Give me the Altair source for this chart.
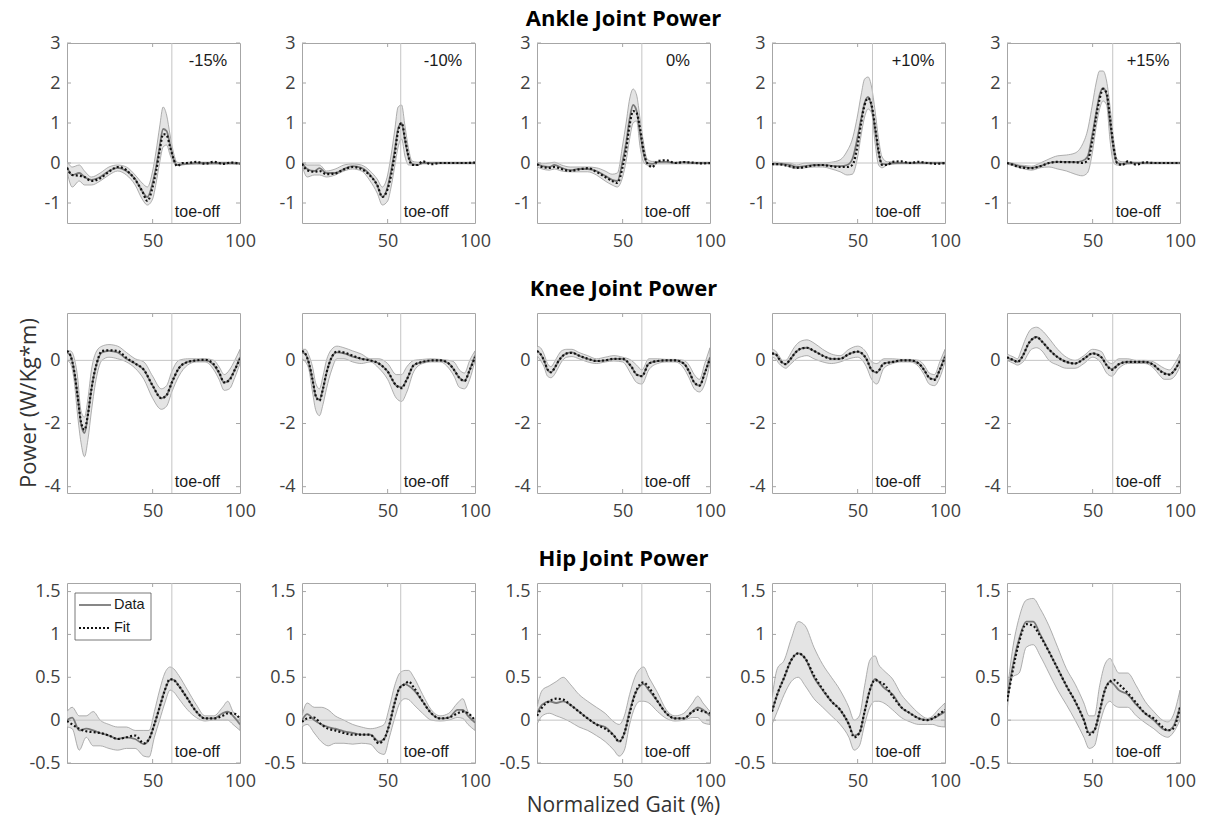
import altair as alt
import pandas as pd

# ---------------- data ----------------
X_ANKLE = [1, 4, 8, 11, 15, 20, 25, 30, 35, 40, 44, 47, 50, 52, 54, 56, 58, 60, 62, 64, 67, 70, 75, 80, 85, 90, 95, 100]
X_KNEE = [1, 3, 5, 7, 9, 11, 13, 15, 18, 21, 25, 30, 35, 40, 45, 50, 55, 58, 61, 65, 70, 75, 80, 85, 88, 91, 94, 97, 100]
X_HIP = [1, 4, 8, 12, 16, 20, 25, 30, 35, 40, 45, 48, 51, 54, 57, 60, 62, 65, 70, 75, 80, 85, 90, 93, 96, 100]

CONDITIONS = ["-15%", "-10%", "0%", "+10%", "+15%"]
TOE_OFF = [61, 57.5, 61, 58.5, 61.5]
X_TICKS = [50, 100]

# Ankle
A_MEAN = [
    [-0.1, -0.3, -0.25, -0.35, -0.42, -0.35, -0.2, -0.12, -0.2, -0.4, -0.7, -0.85, -0.5, -0.1, 0.4, 0.85, 0.8, 0.45, 0.1, -0.05, -0.03, -0.02, 0.0, 0.0, 0.0, 0.0, 0.0, -0.01],
    [0.0, -0.15, -0.2, -0.13, -0.25, -0.25, -0.15, -0.08, -0.12, -0.3, -0.55, -0.85, -0.6, -0.2, 0.3, 0.85, 1.0, 0.55, 0.15, -0.02, -0.05, 0.0, 0.0, 0.0, 0.0, 0.0, 0.0, 0.0],
    [-0.02, -0.08, -0.1, -0.05, -0.12, -0.18, -0.15, -0.15, -0.2, -0.32, -0.42, -0.45, 0.05, 0.5, 1.1, 1.45, 1.3, 0.75, 0.25, 0.0, -0.02, 0.02, 0.03, 0.0, 0.02, 0.0, 0.0, 0.0],
    [-0.02, -0.02, -0.03, -0.05, -0.1, -0.08, -0.05, -0.05, -0.07, -0.08, -0.05, 0.1, 0.65, 1.1, 1.5, 1.65, 1.4, 0.85, 0.25, -0.02, -0.03, 0.0, 0.0, 0.0, 0.0, 0.0, 0.0, 0.0],
    [0.0, -0.03, -0.08, -0.1, -0.12, -0.08, 0.0, 0.03, 0.03, 0.02, 0.05, 0.15, 0.75, 1.25, 1.7, 1.88, 1.7, 1.0, 0.35, 0.0, -0.02, 0.0, 0.0, 0.0, 0.0, 0.0, 0.0, 0.0],
]
A_FIT = [
    [-0.12, -0.3, -0.32, -0.35, -0.45, -0.38, -0.22, -0.1, -0.18, -0.42, -0.7, -0.95, -0.6, -0.2, 0.3, 0.72, 0.7, 0.4, 0.1, -0.08, 0.0, 0.0, 0.03, -0.02, 0.03, -0.02, 0.01, -0.02],
    [-0.02, -0.18, -0.22, -0.2, -0.28, -0.26, -0.16, -0.1, -0.15, -0.32, -0.55, -0.85, -0.65, -0.3, 0.2, 0.8, 1.0, 0.6, 0.15, -0.05, -0.05, 0.04, -0.03, 0.0, 0.0, 0.0, 0.0, 0.01],
    [-0.03, -0.1, -0.12, -0.1, -0.15, -0.2, -0.16, -0.13, -0.22, -0.35, -0.45, -0.5, -0.1, 0.35, 0.95, 1.3, 1.25, 0.85, 0.3, 0.0, -0.1, 0.05, 0.07, 0.0, 0.02, 0.01, -0.01, 0.0],
    [-0.03, -0.03, -0.05, -0.08, -0.12, -0.1, -0.06, -0.05, -0.08, -0.1, -0.1, -0.05, 0.45, 1.0, 1.45, 1.62, 1.45, 0.9, 0.3, -0.05, -0.05, 0.03, 0.04, 0.0, 0.03, 0.0, -0.02, 0.0],
    [0.0, -0.04, -0.1, -0.12, -0.13, -0.08, 0.0, 0.03, 0.02, 0.02, 0.0, 0.05, 0.6, 1.15, 1.6, 1.85, 1.75, 1.1, 0.4, 0.0, -0.05, 0.04, -0.04, 0.02, 0.0, 0.0, 0.0, 0.0],
]
A_LO = [
    [-0.2, -0.6, -0.45, -0.55, -0.55, -0.45, -0.3, -0.2, -0.3, -0.55, -0.9, -1.05, -0.9, -0.5, 0.0, 0.4, 0.45, 0.2, 0.0, -0.05, -0.05, -0.03, -0.03, -0.03, -0.03, -0.03, -0.03, -0.03],
    [-0.05, -0.35, -0.3, -0.3, -0.35, -0.3, -0.2, -0.15, -0.2, -0.45, -0.75, -1.05, -0.95, -0.6, -0.1, 0.4, 0.6, 0.15, -0.05, -0.05, -0.05, -0.02, -0.02, -0.02, -0.02, -0.02, -0.02, -0.02],
    [-0.1, -0.15, -0.18, -0.15, -0.2, -0.22, -0.22, -0.22, -0.3, -0.45, -0.55, -0.6, -0.35, 0.05, 0.6, 1.0, 1.05, 0.4, 0.02, -0.05, -0.08, -0.02, -0.02, -0.02, -0.02, -0.02, -0.02, -0.02],
    [-0.05, -0.05, -0.06, -0.1, -0.14, -0.12, -0.1, -0.1, -0.15, -0.22, -0.3, -0.28, 0.15, 0.7, 1.15, 1.35, 1.25, 0.5, -0.05, -0.12, -0.05, -0.03, -0.02, -0.02, -0.02, -0.02, -0.02, -0.02],
    [-0.03, -0.06, -0.12, -0.15, -0.18, -0.12, -0.1, -0.15, -0.2, -0.28, -0.32, -0.25, 0.3, 0.9, 1.35, 1.55, 1.45, 0.55, 0.0, -0.05, -0.05, -0.03, -0.02, -0.02, -0.02, -0.02, -0.02, -0.02],
]
A_HI = [
    [0.05, -0.1, -0.05, -0.2, -0.35, -0.25, -0.1, -0.05, -0.1, -0.3, -0.5, -0.6, -0.2, 0.3, 0.9, 1.4, 1.2, 0.7, 0.25, 0.02, 0.0, 0.02, 0.02, 0.02, 0.02, 0.02, 0.02, 0.01],
    [0.02, -0.05, -0.05, -0.05, -0.2, -0.15, -0.05, -0.02, -0.05, -0.2, -0.4, -0.6, -0.3, 0.2, 0.8, 1.4, 1.45, 0.9, 0.35, 0.05, 0.02, 0.02, 0.02, 0.02, 0.02, 0.02, 0.02, 0.02],
    [0.02, -0.02, 0.0, 0.02, -0.05, -0.1, -0.1, -0.1, -0.12, -0.2, -0.28, -0.25, 0.45, 1.0, 1.6, 1.85, 1.7, 1.1, 0.5, 0.1, 0.04, 0.04, 0.04, 0.02, 0.03, 0.02, 0.02, 0.02],
    [0.02, 0.02, 0.0, 0.0, -0.05, 0.0, 0.0, 0.0, 0.02, 0.08, 0.3, 0.6, 1.2, 1.7, 2.1, 2.15, 1.9, 1.3, 0.6, 0.15, 0.03, 0.03, 0.02, 0.02, 0.02, 0.02, 0.02, 0.02],
    [0.02, 0.0, -0.05, -0.06, -0.08, 0.0, 0.1, 0.18, 0.2, 0.25, 0.45, 0.8, 1.5, 2.0, 2.3, 2.3, 2.05, 1.4, 0.6, 0.1, 0.03, 0.03, 0.02, 0.02, 0.02, 0.02, 0.02, 0.02],
]

# Knee
K_MEAN = [
    [0.25, 0.15, -0.3, -1.1, -2.0, -2.3, -1.7, -0.9, -0.1, 0.25, 0.3, 0.25, 0.05, -0.1, -0.3, -0.8, -1.2, -1.1, -0.7, -0.25, -0.05, 0.0, 0.0, -0.15, -0.4, -0.7, -0.6, -0.3, 0.1],
    [0.25, 0.2, -0.1, -0.6, -1.15, -1.25, -0.9, -0.4, 0.1, 0.25, 0.22, 0.12, 0.05, 0.0, -0.1, -0.35, -0.8, -0.85, -0.6, -0.15, -0.05, 0.0, 0.0, -0.1, -0.3, -0.55, -0.65, -0.3, 0.15],
    [0.3, 0.2, 0.0, -0.3, -0.37, -0.25, -0.05, 0.1, 0.22, 0.25, 0.15, 0.05, -0.02, 0.0, 0.05, 0.05, -0.2, -0.45, -0.5, -0.1, -0.02, 0.0, 0.0, -0.1, -0.35, -0.7, -0.8, -0.4, 0.1],
    [0.2, 0.2, 0.05, -0.08, -0.12, 0.0, 0.15, 0.28, 0.38, 0.4, 0.3, 0.15, 0.05, 0.05, 0.2, 0.28, 0.05, -0.3, -0.38, -0.1, -0.05, 0.0, 0.0, -0.1, -0.3, -0.55, -0.6, -0.3, 0.15],
    [0.08, 0.05, 0.0, -0.05, 0.05, 0.25, 0.5, 0.65, 0.74, 0.6, 0.35, 0.1, -0.05, -0.1, 0.05, 0.22, 0.1, -0.15, -0.28, -0.12, -0.05, -0.05, -0.05, -0.15, -0.3, -0.4, -0.45, -0.3, 0.0],
]
K_FIT = [
    [0.3, 0.15, -0.3, -1.1, -1.95, -2.2, -1.7, -0.9, -0.1, 0.3, 0.32, 0.3, 0.08, -0.1, -0.3, -0.8, -1.2, -1.1, -0.7, -0.25, -0.05, 0.0, 0.02, -0.12, -0.38, -0.7, -0.62, -0.3, 0.05],
    [0.3, 0.2, -0.1, -0.6, -1.15, -1.28, -0.9, -0.4, 0.1, 0.28, 0.25, 0.15, 0.05, 0.0, -0.1, -0.35, -0.8, -0.88, -0.6, -0.15, -0.05, 0.0, 0.0, -0.1, -0.3, -0.55, -0.65, -0.3, 0.1],
    [0.3, 0.2, 0.0, -0.28, -0.38, -0.25, -0.05, 0.1, 0.22, 0.24, 0.15, 0.05, -0.02, 0.0, 0.05, 0.05, -0.2, -0.45, -0.5, -0.1, -0.02, 0.0, 0.0, -0.1, -0.35, -0.7, -0.8, -0.4, 0.05],
    [0.22, 0.2, 0.05, -0.08, -0.12, 0.0, 0.15, 0.28, 0.38, 0.4, 0.3, 0.15, 0.05, 0.05, 0.2, 0.28, 0.05, -0.3, -0.38, -0.1, -0.05, 0.0, 0.0, -0.1, -0.3, -0.55, -0.62, -0.3, 0.1],
    [0.1, 0.05, 0.0, -0.05, 0.05, 0.25, 0.5, 0.65, 0.74, 0.6, 0.35, 0.1, -0.05, -0.1, 0.05, 0.22, 0.1, -0.15, -0.3, -0.12, -0.05, -0.05, -0.05, -0.15, -0.3, -0.42, -0.45, -0.3, -0.02],
]
K_LO = [
    [0.0, -0.1, -0.6, -1.7, -2.6, -3.05, -2.5, -1.6, -0.5, 0.0, 0.1, 0.05, -0.05, -0.25, -0.6, -1.2, -1.55, -1.45, -1.0, -0.5, -0.15, -0.05, -0.05, -0.3, -0.6, -0.95, -0.9, -0.55, -0.1],
    [0.05, -0.05, -0.3, -1.0, -1.6, -1.75, -1.4, -0.9, -0.3, 0.05, 0.05, -0.05, -0.1, -0.05, -0.25, -0.6, -1.2, -1.3, -1.0, -0.35, -0.1, -0.05, -0.05, -0.25, -0.5, -0.85, -0.9, -0.6, 0.0],
    [0.15, 0.0, -0.2, -0.5, -0.55, -0.45, -0.25, -0.05, 0.1, 0.12, 0.05, -0.05, -0.1, -0.05, -0.02, -0.05, -0.45, -0.7, -0.75, -0.3, -0.1, -0.05, -0.05, -0.25, -0.55, -0.9, -1.0, -0.75, -0.1],
    [0.1, 0.05, -0.1, -0.2, -0.25, -0.15, -0.05, 0.05, 0.12, 0.15, 0.05, -0.05, -0.1, -0.05, 0.05, 0.1, -0.2, -0.6, -0.75, -0.25, -0.1, -0.05, -0.05, -0.2, -0.45, -0.75, -0.8, -0.55, -0.05],
    [0.0, -0.05, -0.1, -0.15, -0.1, 0.0, 0.2, 0.35, 0.4, 0.3, 0.0, -0.15, -0.25, -0.25, -0.1, 0.1, -0.1, -0.4, -0.5, -0.25, -0.1, -0.1, -0.1, -0.25, -0.45, -0.6, -0.6, -0.5, -0.2],
]
K_HI = [
    [0.3, 0.3, 0.1, -0.5, -1.6, -1.8, -1.2, -0.3, 0.3, 0.45, 0.5, 0.45, 0.25, 0.05, -0.05, -0.5, -0.9, -0.8, -0.35, 0.0, 0.05, 0.05, 0.05, 0.0, -0.2, -0.45, -0.3, 0.0, 0.35],
    [0.35, 0.35, 0.15, -0.2, -0.75, -0.9, -0.5, 0.0, 0.35, 0.45, 0.4, 0.3, 0.2, 0.05, 0.05, -0.1, -0.45, -0.45, -0.2, 0.0, 0.03, 0.05, 0.03, 0.0, -0.05, -0.3, -0.4, 0.0, 0.3],
    [0.45, 0.4, 0.2, -0.1, -0.2, -0.05, 0.15, 0.3, 0.35, 0.35, 0.25, 0.15, 0.05, 0.1, 0.15, 0.1, 0.0, -0.15, -0.3, 0.05, 0.05, 0.03, 0.03, 0.0, -0.15, -0.45, -0.6, -0.1, 0.4],
    [0.35, 0.3, 0.15, 0.0, 0.0, 0.15, 0.35, 0.5, 0.62, 0.65, 0.55, 0.35, 0.2, 0.15, 0.35, 0.45, 0.25, -0.05, -0.1, 0.05, 0.05, 0.03, 0.03, 0.0, -0.15, -0.4, -0.45, -0.05, 0.35],
    [0.2, 0.15, 0.1, 0.05, 0.3, 0.6, 0.85, 1.0, 1.05, 0.95, 0.7, 0.35, 0.1, 0.0, 0.15, 0.35, 0.28, 0.0, -0.1, 0.05, 0.05, 0.0, 0.0, -0.05, -0.15, -0.25, -0.3, -0.1, 0.2],
]

# Hip
H_MEAN = [
    [0.0, 0.03, -0.12, -0.1, -0.12, -0.15, -0.18, -0.22, -0.2, -0.22, -0.28, -0.22, -0.05, 0.15, 0.35, 0.47, 0.47, 0.4, 0.25, 0.1, 0.02, 0.02, 0.08, 0.1, 0.05, -0.05],
    [0.0, 0.07, 0.0, -0.05, -0.08, -0.1, -0.13, -0.15, -0.17, -0.17, -0.25, -0.22, -0.05, 0.2, 0.38, 0.42, 0.4, 0.35, 0.22, 0.08, 0.02, 0.03, 0.12, 0.12, 0.05, -0.03],
    [0.08, 0.18, 0.22, 0.2, 0.22, 0.18, 0.1, 0.02, -0.05, -0.08, -0.18, -0.25, -0.15, 0.1, 0.3, 0.4, 0.42, 0.35, 0.22, 0.08, 0.02, 0.02, 0.1, 0.15, 0.12, 0.05],
    [0.1, 0.3, 0.5, 0.7, 0.78, 0.72, 0.5, 0.35, 0.22, 0.12, -0.05, -0.18, -0.15, 0.1, 0.35, 0.48, 0.45, 0.38, 0.3, 0.15, 0.08, 0.02, 0.0, 0.02, 0.05, 0.1],
    [0.22, 0.6, 0.95, 1.15, 1.15, 1.0, 0.8, 0.6, 0.4, 0.22, 0.0, -0.15, -0.12, 0.1, 0.35, 0.45, 0.42, 0.35, 0.3, 0.18, 0.08, 0.0, -0.1, -0.12, -0.08, 0.15],
]
H_FIT = [
    [-0.01, -0.05, -0.1, -0.13, -0.14, -0.15, -0.18, -0.22, -0.2, -0.18, -0.27, -0.22, -0.05, 0.15, 0.35, 0.48, 0.47, 0.4, 0.25, 0.1, 0.02, 0.02, 0.05, 0.08, 0.08, 0.02],
    [-0.02, 0.02, 0.03, -0.05, -0.1, -0.12, -0.15, -0.17, -0.17, -0.17, -0.27, -0.22, -0.05, 0.2, 0.38, 0.42, 0.45, 0.38, 0.22, 0.08, 0.02, 0.03, 0.08, 0.1, 0.08, 0.0],
    [0.05, 0.15, 0.22, 0.25, 0.24, 0.18, 0.1, 0.02, -0.05, -0.1, -0.18, -0.25, -0.15, 0.08, 0.3, 0.42, 0.44, 0.38, 0.22, 0.08, 0.02, 0.02, 0.1, 0.12, 0.1, 0.08],
    [0.1, 0.3, 0.5, 0.7, 0.78, 0.72, 0.52, 0.36, 0.22, 0.12, -0.05, -0.2, -0.15, 0.1, 0.35, 0.47, 0.45, 0.42, 0.28, 0.15, 0.08, 0.02, 0.0, 0.02, 0.06, 0.12],
    [0.22, 0.55, 0.92, 1.12, 1.1, 0.98, 0.8, 0.6, 0.4, 0.22, 0.0, -0.17, -0.12, 0.1, 0.35, 0.45, 0.47, 0.42, 0.32, 0.2, 0.08, 0.02, -0.08, -0.12, -0.1, 0.15],
]
H_LO = [
    [-0.08, -0.1, -0.35, -0.2, -0.3, -0.3, -0.33, -0.35, -0.33, -0.33, -0.42, -0.43, -0.2, 0.0, 0.2, 0.35, 0.33, 0.25, 0.12, 0.03, -0.01, 0.0, 0.0, 0.0, -0.05, -0.12],
    [-0.08, -0.05, -0.15, -0.25, -0.3, -0.27, -0.27, -0.28, -0.27, -0.28, -0.38, -0.4, -0.2, 0.02, 0.2, 0.25, 0.24, 0.18, 0.08, 0.0, -0.01, 0.0, 0.03, 0.02, -0.05, -0.12],
    [-0.05, 0.05, 0.08, 0.05, 0.02, -0.02, -0.08, -0.12, -0.18, -0.25, -0.35, -0.42, -0.35, -0.05, 0.15, 0.22, 0.22, 0.2, 0.1, 0.02, -0.01, 0.0, 0.03, 0.03, -0.03, -0.05],
    [-0.05, 0.1, 0.3, 0.45, 0.5, 0.4, 0.25, 0.15, 0.05, -0.05, -0.2, -0.35, -0.3, -0.05, 0.15, 0.22, 0.22, 0.2, 0.12, 0.03, -0.02, -0.05, -0.05, -0.05, -0.07, -0.08],
    [0.1, 0.5, 0.55, 0.85, 0.88, 0.75, 0.55, 0.35, 0.18, 0.0, -0.2, -0.33, -0.3, -0.05, 0.15, 0.22, 0.18, 0.15, 0.15, 0.05, -0.03, -0.1, -0.18, -0.2, -0.15, 0.0],
]
H_HI = [
    [0.1, 0.15, 0.05, 0.05, 0.1, 0.0, -0.05, -0.08, -0.08, -0.12, -0.12, -0.12, 0.1, 0.35, 0.55, 0.62, 0.6, 0.52, 0.35, 0.18, 0.05, 0.05, 0.15, 0.22, 0.1, 0.02],
    [0.05, 0.2, 0.15, 0.15, 0.12, 0.05, 0.0, -0.05, -0.08, -0.1, -0.08, -0.05, 0.15, 0.4, 0.55, 0.58, 0.58, 0.5, 0.3, 0.12, 0.05, 0.08, 0.2, 0.25, 0.1, 0.0],
    [0.15, 0.35, 0.4, 0.45, 0.5, 0.42, 0.3, 0.22, 0.15, 0.08, -0.02, -0.05, 0.05, 0.3, 0.5, 0.6, 0.62, 0.5, 0.32, 0.12, 0.05, 0.08, 0.2, 0.28, 0.2, 0.1],
    [0.25, 0.6, 0.7, 0.95, 1.15, 1.1, 0.85, 0.65, 0.5, 0.35, 0.15, 0.0, 0.05, 0.4, 0.7, 0.75, 0.65, 0.58, 0.48, 0.3, 0.18, 0.08, 0.02, 0.05, 0.12, 0.2],
    [0.3, 0.8, 1.2, 1.4, 1.42, 1.3, 1.1, 0.85, 0.6, 0.42, 0.2, 0.05, 0.05, 0.4, 0.65, 0.72, 0.65, 0.55, 0.55, 0.4, 0.22, 0.1, 0.0, -0.02, 0.05, 0.35],
]

ROWS = [
    ("Ankle Joint Power", X_ANKLE, A_MEAN, A_FIT, A_LO, A_HI, [-1.5, 3], [-1, 0, 1, 2, 3]),
    ("Knee Joint Power", X_KNEE, K_MEAN, K_FIT, K_LO, K_HI, [-4.2, 1.5], [-4, -2, 0]),
    ("Hip Joint Power", X_HIP, H_MEAN, H_FIT, H_LO, H_HI, [-0.5, 1.6], [-0.5, 0, 0.5, 1, 1.5]),
]

# ---------------- styling ----------------
W, H = 173, 180
TICK_FONT = "Open Sans"
IN_FONT = "Liberation Sans"
BAND_FILL = "#e4e4e4"
BAND_EDGE = "#9c9c9c"
REF_COLOR = "#c4c4c4"
FRAME = "#a6a6a6"
TL = 4  # inward tick length


def panel(row_i, col_i):
    title, xs, mean, fit, lo, hi, ydom, yvals = ROWS[row_i]
    df = pd.DataFrame({"x": xs, "mean": mean[col_i], "fit": fit[col_i],
                       "lo": lo[col_i], "hi": hi[col_i]})
    base = alt.Chart(df)
    xenc = alt.X("x:Q", scale=alt.Scale(domain=[1, 100], nice=False, zero=False),
                 axis=alt.Axis(values=X_TICKS, labelExpr="'' + datum.value",
                               labelPadding=9, labelFlush=False), title=None)
    yscale = alt.Scale(domain=ydom, nice=False, zero=False)
    yaxis = alt.Axis(values=yvals, labelExpr="'' + datum.value", labelPadding=7,
                     labelFlush=False)

    band = base.mark_area(fill=BAND_FILL, stroke=BAND_EDGE, strokeWidth=0.8,
                          interpolate="monotone", clip=True).encode(
        x=xenc, y=alt.Y("lo:Q", scale=yscale, axis=yaxis, title=None), y2="hi:Q")
    zero = alt.Chart(pd.DataFrame({"z": [0]})).mark_rule(
        color=REF_COLOR, strokeWidth=1).encode(y=alt.Y("z:Q"))
    toe = alt.Chart(pd.DataFrame({"t": [TOE_OFF[col_i]]})).mark_rule(
        color=REF_COLOR, strokeWidth=1).encode(x=alt.X("t:Q"))

    # inward ticks (MATLAB style) on all four sides
    xt = pd.DataFrame({"t": X_TICKS[:-1]})
    yt = pd.DataFrame({"v": yvals})
    ticks = [
        alt.Chart(xt).mark_rule(color=FRAME, strokeWidth=1).encode(
            x="t:Q", y=alt.value(0), y2=alt.value(TL)),
        alt.Chart(xt).mark_rule(color=FRAME, strokeWidth=1).encode(
            x="t:Q", y=alt.value(H - TL), y2=alt.value(H)),
        alt.Chart(yt).mark_rule(color=FRAME, strokeWidth=1).encode(
            y="v:Q", x=alt.value(0), x2=alt.value(TL)),
        alt.Chart(yt).mark_rule(color=FRAME, strokeWidth=1).encode(
            y="v:Q", x=alt.value(W - TL), x2=alt.value(W)),
    ]

    mline = base.mark_line(color="#7a7a7a", strokeWidth=1.8,
                           interpolate="monotone", clip=True).encode(x="x:Q", y="mean:Q")
    fline = base.mark_line(color="#111111", strokeWidth=2.2, strokeDash=[2, 2.2],
                           interpolate="monotone", clip=True).encode(x="x:Q", y="fit:Q")
    toe_txt = alt.Chart(pd.DataFrame({"t": [TOE_OFF[col_i]], "s": ["toe-off"]})).mark_text(
        font=IN_FONT, fontSize=16, color="#1a1a1a", align="left", baseline="middle", dx=3
    ).encode(x="t:Q", y=alt.value(H - 11), text="s:N")

    layers = [band, zero, toe] + ticks + [mline, fline, toe_txt]

    if row_i == 0:
        layers.append(alt.Chart(pd.DataFrame({"s": [CONDITIONS[col_i]]})).mark_text(
            font=IN_FONT, fontSize=16.5, color="#1a1a1a", align="center", baseline="middle"
        ).encode(x=alt.value(141), y=alt.value(18), text="s:N"))
    if col_i == 2:
        layers.append(alt.Chart(pd.DataFrame({"s": [title]})).mark_text(
            font=TICK_FONT, fontSize=22, fontWeight="bold", color="#000000",
            align="center", baseline="middle"
        ).encode(x=alt.value(W / 2), y=alt.value(-24), text="s:N"))
    if row_i == 1 and col_i == 0:
        layers.append(alt.Chart(pd.DataFrame({"s": ["Power (W/Kg*m)"]})).mark_text(
            font=TICK_FONT, fontSize=22, color="#333333", angle=270,
            align="center", baseline="middle"
        ).encode(x=alt.value(-38), y=alt.value(H / 2), text="s:N"))
    if row_i == 2 and col_i == 2:
        layers.append(alt.Chart(pd.DataFrame({"s": ["Normalized Gait (%)"]})).mark_text(
            font=TICK_FONT, fontSize=21, color="#333333", align="center", baseline="middle"
        ).encode(x=alt.value(W / 2), y=alt.value(H + 43), text="s:N"))
    if row_i == 2 and col_i == 0:
        # legend box
        layers.append(alt.Chart(pd.DataFrame({"a": [0]})).mark_rect(
            fill="white", stroke="#555555", strokeWidth=0.8
        ).encode(x=alt.value(8), x2=alt.value(84), y=alt.value(10), y2=alt.value(57)))
        layers.append(alt.Chart(pd.DataFrame({"a": [0]})).mark_rule(
            color="#7a7a7a", strokeWidth=1.8
        ).encode(x=alt.value(12), x2=alt.value(44), y=alt.value(22)))
        layers.append(alt.Chart(pd.DataFrame({"a": [0]})).mark_rule(
            color="#111111", strokeWidth=2.0, strokeDash=[2, 2]
        ).encode(x=alt.value(12), x2=alt.value(44), y=alt.value(45)))
        layers.append(alt.Chart(pd.DataFrame({"s": ["Data", "Fit"], "yy": [22, 45]})).mark_text(
            font=IN_FONT, fontSize=14.5, color="#1a1a1a", align="left", baseline="middle"
        ).encode(x=alt.value(47), y=alt.Y("yy:Q", scale=None), text="s:N"))

    return alt.layer(*layers).properties(width=W, height=H)


panels = [panel(r, c) for r in range(3) for c in range(5)]

chart = alt.concat(*panels, columns=5, spacing={"row": 90, "column": 62},
                   bounds="flush").properties(
    padding={"left": 17, "top": 7, "right": 5, "bottom": 5}
).configure_view(
    stroke=FRAME, strokeWidth=1
).configure_axis(
    labelFont=TICK_FONT, labelFontSize=18, labelColor="#404040",
    ticks=False, domain=False, grid=False
)

chart.save("out.html", embed_options={"renderer": "svg", "actions": False})
